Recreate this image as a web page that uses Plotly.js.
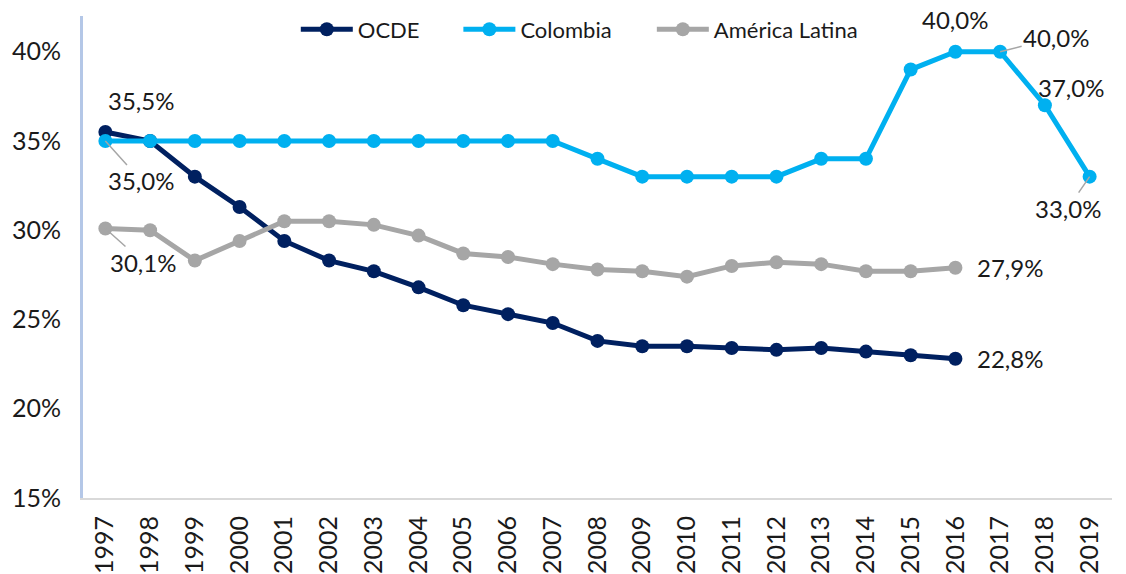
<!DOCTYPE html>
<html>
<head>
<meta charset="utf-8">
<script src="https://cdn.plot.ly/plotly-3.0.1.min.js"></script>
<style>html,body{margin:0;padding:0;background:#fff;}#chart{width:1126px;height:574px;}</style>
</head>
<body>
<div id="chart"></div>
<script>
const years = ['1997','1998','1999','2000','2001','2002','2003','2004','2005','2006','2007','2008','2009','2010','2011','2012','2013','2014','2015','2016','2017','2018','2019'];
const ocde = [35.5,35.0,33.0,31.3,29.4,28.3,27.7,26.8,25.8,25.3,24.8,23.8,23.5,23.5,23.4,23.3,23.4,23.2,23.0,22.8];
const colombia = [35.0,35.0,35.0,35.0,35.0,35.0,35.0,35.0,35.0,35.0,35.0,34.0,33.0,33.0,33.0,33.0,34.0,34.0,39.0,40.0,40.0,37.0,33.0];
const latam = [30.1,30.0,28.3,29.4,30.5,30.5,30.3,29.7,28.7,28.5,28.1,27.8,27.7,27.4,28.0,28.2,28.1,27.7,27.7,27.9];
const yTicks = [15,20,25,30,35,40];
const names = ['OCDE','Colombia','América Latina'];
const colors = ['#002060','#00B0F0','#A6A6A6'];

const FONT = 'Lato, "DejaVu Sans", sans-serif';
const TXT = '#1a1a1a';
const fmt = v => v.toFixed(1).replace('.', ',') + '%';

const series = [ocde, colombia, latam];
const legendIds = ['legend', 'legend2', 'legend3'];
const traces = series.map((s, i) => ({
  x: years.slice(0, s.length),
  y: s,
  name: names[i],
  legend: legendIds[i],
  type: 'scatter',
  mode: 'lines+markers',
  line: {color: colors[i], width: 5},
  marker: {color: colors[i], size: 14},
  hoverinfo: 'skip'
}));

const last = a => a.length - 1;
const lbl = (arr, idx, opts) => Object.assign({
  x: idx, y: arr[idx], xref: 'x', yref: 'y',
  text: fmt(arr[idx]), showarrow: false,
  font: {family: FONT, size: 24, color: TXT}
}, opts);
const lead = {showarrow: true, arrowhead: 0, arrowwidth: 1.5, arrowcolor: '#A6A6A6', standoff: 0};

const annotations = [
  lbl(ocde, 0, {xshift: 36, yshift: 32}),
  lbl(colombia, 0, Object.assign({}, lead, {ax: 36, ay: 40})),
  lbl(latam, 0, Object.assign({}, lead, {ax: 38, ay: 34})),
  lbl(colombia, 19, {yshift: 32}),
  lbl(colombia, 20, Object.assign({}, lead, {ax: 56, ay: -14})),
  lbl(colombia, 21, {xshift: 26, yshift: 18}),
  lbl(colombia, 22, Object.assign({}, lead, {ax: -22, ay: 32})),
  lbl(latam, last(latam), {xanchor: 'left', xshift: 20}),
  lbl(ocde, last(ocde), {xanchor: 'left', xshift: 20})
];

const legBase = {
  orientation: 'h', yanchor: 'middle', y: 0.972, xanchor: 'left',
  font: {family: FONT, size: 22, color: TXT},
  bgcolor: 'rgba(0,0,0,0)', itemwidth: 52
};

const layout = {
  width: 1126, height: 574,
  margin: {l: 83, r: 14, t: 16, b: 76, autoexpand: false},
  paper_bgcolor: '#ffffff', plot_bgcolor: '#ffffff',
  font: {family: FONT, color: TXT},
  showlegend: true,
  legend: Object.assign({}, legBase, {x: 0.2068}),
  legend2: Object.assign({}, legBase, {x: 0.3648}),
  legend3: Object.assign({}, legBase, {x: 0.5528}),
  xaxis: {
    type: 'category', range: [-0.5, 22.5],
    tickangle: -90, tickfont: {family: FONT, size: 25, color: TXT},
    showgrid: false, zeroline: false, showline: true, linecolor: '#d9d9d9', linewidth: 2,
    ticks: '', ticklabelstandoff: 6, fixedrange: true
  },
  yaxis: {
    range: [15, 42], tickvals: yTicks, ticktext: yTicks.map(v => v + '%'),
    tickfont: {family: FONT, size: 25, color: TXT},
    showgrid: false, zeroline: false, showline: true, linecolor: '#b4c7e7', linewidth: 3,
    ticks: '', ticklabelstandoff: 14, fixedrange: true
  },
  annotations: annotations
};

Plotly.newPlot('chart', traces, layout, {displayModeBar: false, staticPlot: true});
</script>
</body>
</html>
